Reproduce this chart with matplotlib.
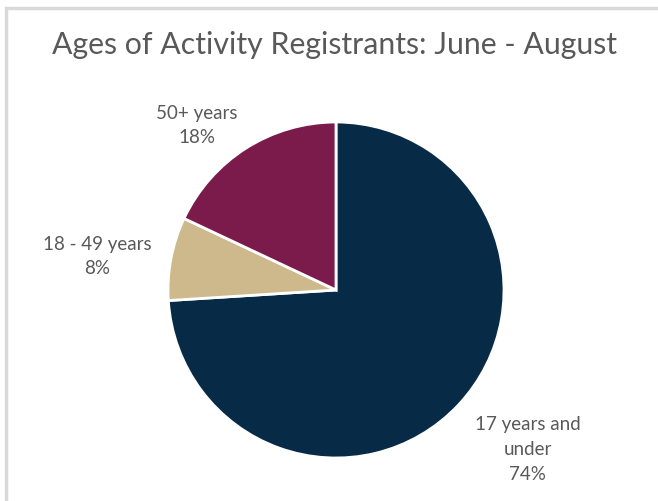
import matplotlib
matplotlib.use("Agg")
import matplotlib.pyplot as plt
from matplotlib.patches import Rectangle

# Data
categories = ["17 years and\nunder", "18 - 49 years", "50+ years"]
shares = [74, 8, 18]
colors = ["#072b46", "#cdb98b", "#7a1b4b"]

# label centres relative to pie centre (in radii)
label_pos = [(1.14, -0.95), (-1.42, 0.20), (-0.83, 0.98)]

plt.rcParams["font.family"] = ["Lato", "DejaVu Sans"]
text_color = "#595959"

fig = plt.figure(figsize=(6.58, 5.01), dpi=100)
fig.patch.set_facecolor("white")

# thin grey frame like the original screenshot
fig.patches.append(Rectangle((6 / 658, -0.1), 1.2, (501 - 8) / 501 + 0.1,
                             transform=fig.transFigure, fill=False,
                             edgecolor="#d9d9d9", linewidth=2.5))

ax = fig.add_axes([168 / 658, 43 / 501, 336 / 658, 336 / 501])
ax.pie(shares, colors=colors, startangle=90, counterclock=False,
       wedgeprops=dict(edgecolor="white", linewidth=2), radius=1.0)
ax.set_xlim(-1, 1)
ax.set_ylim(-1, 1)
ax.set_aspect("equal")
ax.axis("off")

for cat, val, (x, y) in zip(categories, shares, label_pos):
    ax.text(x, y, f"{cat}\n{val}%", ha="center", va="center",
            fontsize=13.5, color=text_color, linespacing=1.55, clip_on=False)

fig.text(335 / 658, 1 - 45 / 501, "Ages of Activity Registrants: June - August",
         ha="center", va="center", fontsize=21.8, color=text_color)

fig.savefig("out.png", dpi=100)
